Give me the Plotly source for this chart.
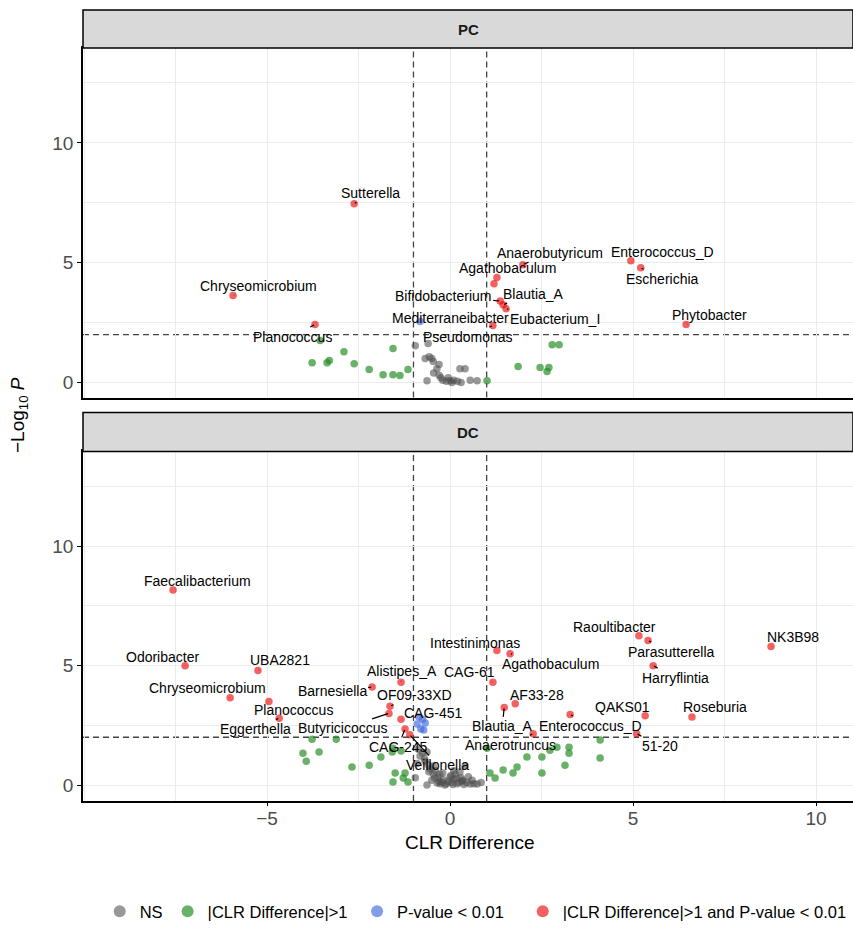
import plotly.graph_objects as go

# ---------------- data ----------------
# PC panel: labelled taxa
pc_lab_names = ["Sutterella", "Chryseomicrobium", "Planococcus", "Anaerobutyricum",
                "Enterococcus_D", "Escherichia", "Agathobaculum", "Bifidobacterium",
                "Blautia_A", "Eubacterium_I", "Mediterraneibacter", "Pseudomonas", "Phytobacter"]
pc_lab_x = [-2.62, -5.93, -3.69, 1.99, 4.94, 5.21, 1.28, 1.37, 1.45, 1.53, -0.82, 1.17, 6.45]
pc_lab_y = [7.46, 3.63, 2.42, 4.92, 5.08, 4.79, 4.38, 3.40, 3.25, 3.08, 2.55, 2.38, 2.42]
# PC panel: unlabelled taxa
pc_other_x = [-3.55, -2.90, -1.56, -3.77, -3.36, -3.30, -2.62, -2.21, -1.83, -1.56, -1.37, -1.15,
              2.79, 2.98, 1.86, 2.46, 2.70, 2.65, 1.01, 1.20,
              -0.95, -0.60, -0.57, -0.50, -0.46, -0.36, -0.63, -0.45, -0.30, -0.20, -0.10, 0.00,
              0.10, 0.20, 0.27, 0.41, 0.74, -0.68, -0.30, -0.05, 0.05, 0.55, 0.30, -0.25]
pc_other_y = [1.75, 1.29, 1.42, 0.83, 0.83, 0.92, 0.79, 0.54, 0.33, 0.33, 0.29, 0.54,
              1.58, 1.58, 0.67, 0.63, 0.63, 0.46, 0.08, 4.12,
              1.54, 1.63, 1.08, 1.00, 0.88, 0.58, 0.08, 0.40, 0.30, 0.10, 0.05, 0.08,
              0.10, 0.05, 0.58, 0.58, 0.08, 1.00, 0.75, 0.20, 0.00, 0.10, 0.00, 0.20]

# DC panel: labelled taxa
dc_lab_names = ["Faecalibacterium", "Odoribacter", "UBA2821", "Chryseomicrobium", "Planococcus",
                "Eggerthella", "Barnesiella", "Alistipes_A", "OF09-33XD", "Butyricicoccus",
                "CAG-451", "CAG-245", "Veillonella", "Intestinimonas", "Agathobaculum", "CAG-61",
                "AF33-28", "Blautia_A", "Anaerotruncus", "Enterococcus_D", "Raoultibacter",
                "Parasutterella", "Harryflintia", "QAKS01", "51-20", "Roseburia", "NK3B98"]
dc_lab_x = [-7.57, -7.24, -5.25, -6.01, -4.95, -4.67, -2.13, -1.34, -1.64, -1.67, -1.34, -1.23,
            -1.10, 1.28, 1.64, 1.17, 1.78, 1.48, 2.27, 3.28, 5.16, 5.41, 5.55, 5.33, 5.10, 6.61, 8.77]
dc_lab_y = [8.17, 5.00, 4.80, 3.65, 3.50, 2.80, 4.10, 4.30, 3.30, 3.00, 2.75, 2.35,
            2.10, 5.63, 5.50, 4.30, 3.40, 3.25, 2.15, 2.95, 6.25, 6.05, 5.00, 2.90, 2.15, 2.85, 5.80]
# DC panel: unlabelled taxa
dc_other_x = [-3.77, -3.11, -4.02, -3.58, -3.93, -2.68, -2.21, -1.89, -1.58, -1.34, -1.50, -1.56,
              -1.28, -1.15, -1.56, -1.23, 1.01, 1.09, 1.23, 1.45, 1.72, 1.83, 2.10, 2.51, 2.51,
              2.73, 2.92, 3.14, 3.25, 3.25, 4.10, 4.10,
              -0.85, -0.75, -0.80, -0.72, -0.90, -0.68,
              -0.82, -0.68, -0.55, -0.46, -0.33, -0.22, 0.00, 0.14, 0.27, 0.33, 0.55, 0.74,
              -0.63, -0.14, -0.87, 0.41, -0.75, -0.60, -0.40, -0.30, -0.10, 0.05, 0.20, 0.30,
              0.45, 0.60, -0.50, -0.20, 0.10, -0.90, 0.85, -0.95, -0.63, -0.46, -0.27, 0.10,
              -0.35, -0.18, -0.05, 0.08, 0.18, 0.25, 0.38, 0.50, 0.65, -0.42, -0.28, 0.02,
              0.35, -0.58, -0.70]
dc_other_y = [1.92, 1.92, 1.33, 1.38, 1.00, 0.75, 0.83, 1.17, 1.38, 1.42, 0.50, 0.13,
              0.29, 0.13, 1.54, 0.50, 1.54, 0.50, 0.29, 0.63, 0.50, 0.75, 1.17, 1.17, 0.50,
              1.46, 1.58, 0.83, 1.58, 1.33, 1.88, 1.13,
              2.85, 2.75, 2.35, 2.30, 2.55, 2.60,
              1.21, 1.00, 0.67, 0.46, 0.33, 0.13, 0.33, 0.46, 0.54, 0.17, 0.04, 0.04,
              0.00, 0.00, 1.50, 0.80, 1.35, 0.85, 0.60, 0.15, 0.05, 0.10, 0.05, 0.30,
              0.10, 0.20, 0.20, 0.50, 0.60, 0.90, 0.10, 0.30, 1.38, 0.80, 0.05, 0.25,
              0.08, 0.22, 0.15, 0.02, 0.28, 0.12, 0.02, 0.35, 0.05, 0.30, 0.45, 0.40,
              0.20, 0.55, 1.10]

fc_cut = 1.0      # |CLR difference| threshold
p_cut = 2.0       # -log10(0.01)

categories = ["NS", "|CLR Difference|>1", "P-value < 0.01", "|CLR Difference|>1 and P-value < 0.01"]
x_tick_vals = [-5, 0, 5, 10]
y_tick_vals = [0, 5, 10]

# ---------------- styles / layout helpers ----------------
cat_colors = ["rgba(77,77,77,0.58)", "rgba(34,139,34,0.68)",
              "rgba(65,105,225,0.65)", "rgba(238,0,0,0.62)"]
legend_pad = ["", "\u00a0", "\u00a0\u00a0\u00a0", ""]

# label offsets in pixels (dx, dy) relative to the point
pc_offsets = {"Sutterella": (16, -11), "Chryseomicrobium": (25, -10), "Planococcus": (-23, 12),
              "Anaerobutyricum": (27, -12), "Enterococcus_D": (32, -9), "Escherichia": (22, 11),
              "Agathobaculum": (11, -10), "Bifidobacterium": (-57, -5), "Blautia_A": (30, -11),
              "Eubacterium_I": (49, 10), "Mediterraneibacter": (30, -3), "Pseudomonas": (-25, 11),
              "Phytobacter": (23, -10)}
dc_offsets = {"Faecalibacterium": (24, -9), "Odoribacter": (-23, -9), "UBA2821": (22, -10),
              "Chryseomicrobium": (-23, -10), "Planococcus": (25, 9), "Eggerthella": (-24, 11),
              "Barnesiella": (-40, 4), "Alistipes_A": (1, -11), "OF09-33XD": (24, -11),
              "Butyricicoccus": (-46, 15), "CAG-451": (32, -6), "CAG-245": (-7, 18),
              "Veillonella": (28, 30), "Intestinimonas": (-22, -8), "Agathobaculum": (40, 10),
              "CAG-61": (-23, -10), "AF33-28": (22, -9), "Blautia_A": (-2, 19),
              "Anaerotruncus": (-23, 11), "Enterococcus_D": (20, 11), "Raoultibacter": (-24, -9),
              "Parasutterella": (23, 11), "Harryflintia": (22, 12), "QAKS01": (-23, -9),
              "51-20": (23, 12), "Roseburia": (23, -10), "NK3B98": (22, -10)}


def category(x, y):
    big = abs(x) > fc_cut
    sig = y > p_cut
    if big and sig:
        return 3
    if sig:
        return 2
    if big:
        return 1
    return 0


fig = go.Figure()

panels = [
    ("x2", "y2", pc_lab_x + pc_other_x, pc_lab_y + pc_other_y),
    ("x", "y", dc_lab_x + dc_other_x, dc_lab_y + dc_other_y),
]
for xa, ya, xs, ys in panels:
    for ci in range(4):
        px = [x for x, y in zip(xs, ys) if category(x, y) == ci]
        py = [y for x, y in zip(xs, ys) if category(x, y) == ci]
        fig.add_trace(go.Scatter(x=px, y=py, mode="markers", xaxis=xa, yaxis=ya,
                                 marker=dict(size=7.5, color=cat_colors[ci], line=dict(width=0)),
                                 showlegend=False, hoverinfo="skip"))

# legend entries
for ci, name in enumerate(categories):
    fig.add_trace(go.Scatter(x=[None], y=[None], mode="markers", name=name + legend_pad[ci],
                             marker=dict(size=12, color=cat_colors[ci]), showlegend=True))

annotations = []
for names, xs, ys, offs, xa, ya in [
    (pc_lab_names, pc_lab_x, pc_lab_y, pc_offsets, "x2", "y2"),
    (dc_lab_names, dc_lab_x, dc_lab_y, dc_offsets, "x", "y"),
]:
    for n, x, y in zip(names, xs, ys):
        dx, dy = offs[n]
        annotations.append(dict(x=x, y=y, xref=xa, yref=ya, text=n, showarrow=True,
                                ax=dx, ay=dy, arrowhead=0, arrowwidth=1.2, arrowcolor="black",
                                standoff=1, startstandoff=0,
                                font=dict(size=14, color="black", family="Liberation Sans, Arial")))

# strip labels and axis titles
annotations += [
    dict(x=0.5, y=1.0252, xref="paper", yref="paper", text="<b>PC</b>", showarrow=False,
         xanchor="center", yanchor="middle", font=dict(size=15, color="#1a1a1a")),
    dict(x=0.5, y=0.4900, xref="paper", yref="paper", text="<b>DC</b>", showarrow=False,
         xanchor="center", yanchor="middle", font=dict(size=15, color="#1a1a1a")),
    dict(x=0.503, y=-0.055, xref="paper", yref="paper", text="CLR Difference", showarrow=False,
         xanchor="center", yanchor="middle", font=dict(size=19, color="black")),
    dict(x=-0.084, y=0.513, xref="paper", yref="paper", text="\u2212Log<sub>10</sub> <i>P</i>",
         showarrow=False, textangle=-90, xanchor="center", yanchor="middle",
         font=dict(size=19, color="black")),
]

shapes = []
# strips
for y0, y1 in [(1.0, 1.0504), (0.4642, 0.5159)]:
    shapes.append(dict(type="rect", xref="paper", yref="paper", x0=0, x1=1.0, y0=y0, y1=y1,
                       fillcolor="#d9d9d9", line=dict(color="black", width=1.5), layer="above"))
# threshold lines
for xa, ya in [("x2", "y2"), ("x", "y")]:
    for xv in (-fc_cut, fc_cut):
        shapes.append(dict(type="line", xref=xa, yref=ya + " domain", x0=xv, x1=xv, y0=0, y1=1,
                           line=dict(color="#444444", width=1.3, dash="6px,4px"), layer="below"))
    shapes.append(dict(type="line", xref=xa + " domain", yref=ya, x0=0, x1=1, y0=p_cut, y1=p_cut,
                       line=dict(color="#444444", width=1.3, dash="6px,4px"), layer="below"))

grid = "#ebebeb"
xcommon = dict(range=[-10.03, 11.01], tickmode="array", tickvals=x_tick_vals,
               showgrid=True, gridcolor=grid, gridwidth=1,
               minor=dict(tickmode="array", tickvals=[-10, -7.5, -2.5, 2.5, 7.5],
                          showgrid=True, gridcolor=grid, gridwidth=0.7),
               zeroline=False, showline=True, linecolor="black", linewidth=1.5, mirror=True)
ycommon = dict(tickmode="array", tickvals=y_tick_vals, showgrid=True, gridcolor=grid, gridwidth=1,
               minor=dict(tickmode="array", tickvals=[2.5, 7.5, 12.5],
                          showgrid=True, gridcolor=grid, gridwidth=0.7),
               zeroline=False, showline=True, linecolor="black", linewidth=1.5,
               ticks="outside", ticklen=4, tickwidth=1.2, tickcolor="black",
               tickfont=dict(size=19, color="#4d4d4d"))

fig.update_layout(
    width=853, height=929,
    margin=dict(l=83, r=0, t=48, b=127),
    paper_bgcolor="white", plot_bgcolor="white",
    font=dict(family="Liberation Sans, Arial", color="black"),
    xaxis=dict(**xcommon, anchor="y", ticks="outside", ticklen=3, tickwidth=1.2, tickcolor="black",
               tickfont=dict(size=19, color="#4d4d4d")),
    yaxis=dict(**ycommon, domain=[0, 0.4642], range=[-0.67, 13.97], anchor="x"),
    xaxis2=dict(**xcommon, anchor="y2", showticklabels=False, ticks=""),
    yaxis2=dict(**ycommon, domain=[0.5358, 1.0], range=[-0.625, 13.96], anchor="x2"),
    showlegend=True,
    legend=dict(orientation="h", x=0.51, xanchor="center", y=-0.146, yanchor="middle",
                font=dict(size=16.5, color="black"), itemwidth=30, bgcolor="rgba(0,0,0,0)"),
    annotations=annotations,
    shapes=shapes,
)
try:
    fig.update_layout(xaxis_ticklabelstandoff=-4)
except Exception:
    pass

fig.write_html("out.html")
